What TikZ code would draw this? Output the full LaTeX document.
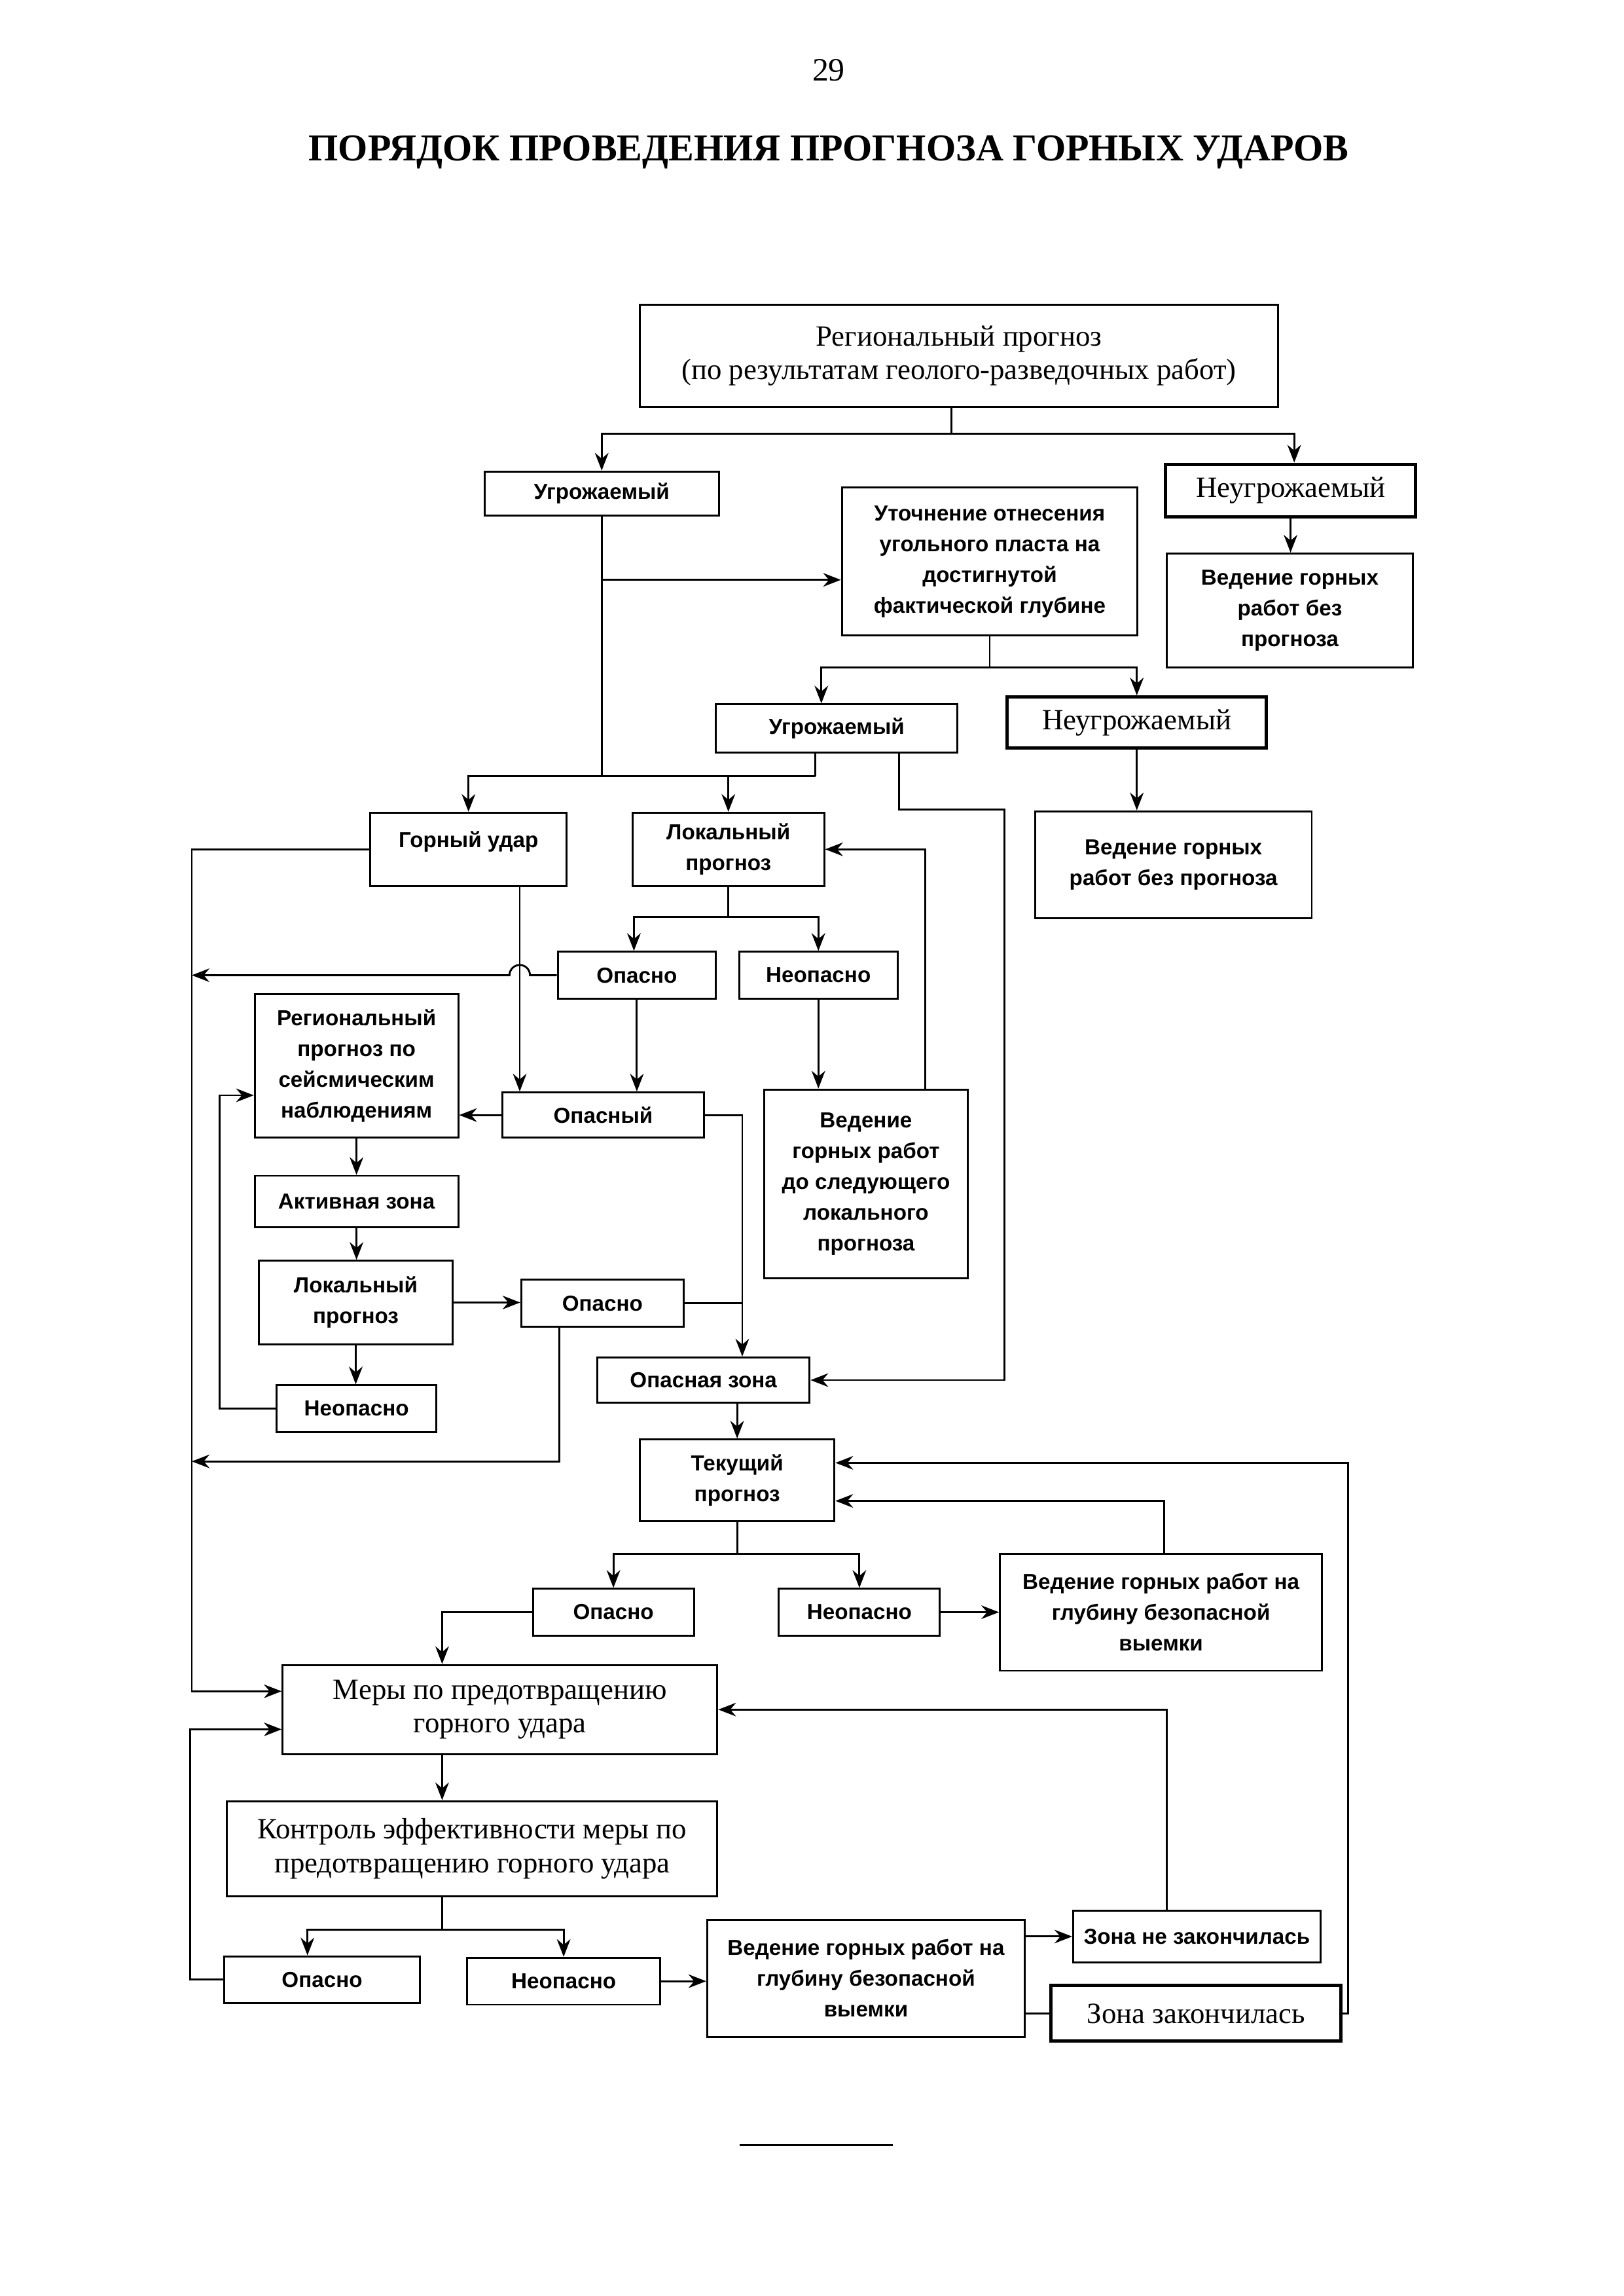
\documentclass[tikz,border=0pt]{standalone}
\usepackage{fontspec}
\setmainfont{Liberation Serif}
\newfontfamily\sansfam{Liberation Sans}
\usepackage{tikz}
\usetikzlibrary{calc,arrows.meta}

\def\pxu{0.018936cm}
\newcommand{\sfb}{\sansfam\bfseries\fontsize{8}{11.3}\selectfont}
\newcommand{\rmb}{\rmfamily\fontsize{10.8}{12.4}\selectfont}

\begin{document}
\begin{tikzpicture}[x=0.018936cm,y=-0.018936cm,->,>={Stealth[length=6.5pt,width=5pt]},line width=0.7pt]
\tikzstyle{sbox}=[draw,rectangle,align=center,inner sep=1pt,font=\sfb]
\tikzstyle{rbox}=[draw,rectangle,align=center,inner sep=1pt,font=\rmb]
\tikzstyle{thickbox}=[line width=1.2pt]
\tikzset{wh/.style 2 args={minimum width=#1*\pxu,minimum height=#2*\pxu}}
\useasboundingbox (0,0) rectangle (1109,1568);

% page head
\node (pg) at (566,48) {\fontsize{12}{14}\selectfont 29};
\node (title) at (566,104) {\fontsize{14}{16}\selectfont\bfseries ПОРЯДОК ПРОВЕДЕНИЯ ПРОГНОЗА ГОРНЫХ УДАРОВ};

% boxes
\node[rbox,wh={436}{70}] (reg) at (655,243) {Региональный прогноз\\(по результатам геолого-разведочных работ)};
\node[sbox,wh={160}{30}] (ug1) at (411,337) {Угрожаемый};
\node[rbox,thickbox,wh={171}{36}] (neug1) at (881.5,335) {Неугрожаемый};
\node[sbox,wh={202}{101}] (utoch) at (676,383.5) {Уточнение отнесения\\угольного пласта на\\достигнутой\\фактической глубине};
\node[sbox,wh={168}{78}] (ved1) at (881,417) {Ведение горных\\работ без\\прогноза};
\node[sbox,wh={165}{33}] (ug2) at (571.5,497.5) {Угрожаемый};
\node[rbox,thickbox,wh={177}{35}] (neug2) at (776.5,493.5) {Неугрожаемый};
\node[sbox,wh={189}{73}] (ved2) at (801.5,590.5) {Ведение горных\\работ без прогноза};
\node[sbox,wh={134}{50}] (gu) at (320,580) {Горный удар\\[-4pt]\mbox{}};
\node[sbox,wh={131}{50}] (lp1) at (497.5,580) {Локальный\\прогноз};
\node[sbox,wh={108}{32}] (op1) at (435,666) {Опасно};
\node[sbox,wh={108}{32}] (neop1) at (559,666) {Неопасно};
\node[sbox,wh={139}{129}] (vedsl) at (591.5,808.5) {Ведение\\горных работ\\до следующего\\локального\\прогноза};
\node[sbox,wh={138}{31}] (opy) at (412,761.5) {Опасный};
\node[sbox,wh={139}{98}] (regs) at (243.5,728) {Региональный\\прогноз по\\сейсмическим\\наблюдениям};
\node[sbox,wh={139}{35}] (akt) at (243.5,820.5) {Активная зона};
\node[sbox,wh={132}{57}] (lp2) at (243,889.5) {Локальный\\прогноз};
\node[sbox,wh={111}{32}] (op2) at (411.5,890) {Опасно};
\node[sbox,wh={109}{32}] (neop2) at (243.5,962) {Неопасно};
\node[sbox,wh={145}{31}] (oz) at (480.5,942.5) {Опасная зона};
\node[sbox,wh={133}{56}] (tek) at (503.5,1011) {Текущий\\прогноз};
\node[sbox,wh={110}{32}] (op3) at (419,1101) {Опасно};
\node[sbox,wh={110}{32}] (neop3) at (587,1101) {Неопасно};
\node[sbox,wh={220}{80}] (ved3) at (793,1101) {Ведение горных работ на\\глубину безопасной\\выемки};
\node[rbox,wh={297}{61}] (mery) at (341.5,1167.5) {Меры по предотвращению\\горного удара};
\node[rbox,wh={335}{65}] (kontr) at (322.5,1262.5) {Контроль эффективности меры по\\предотвращению горного удара};
\node[sbox,wh={134}{32}] (op4) at (220,1352) {Опасно};
\node[sbox,wh={132}{32}] (neop4) at (385,1353) {Неопасно};
\node[sbox,wh={217}{80}] (ved4) at (591.5,1351) {Ведение горных работ на\\глубину безопасной\\выемки};
\node[sbox,wh={169}{35}] (zn) at (817.5,1322.5) {Зона не закончилась};
\node[rbox,thickbox,wh={198}{38}] (zz) at (817,1375) {Зона закончилась};

% junctions
\coordinate (t1) at (650,296);
\coordinate (t2) at (411,530);
\coordinate (j1) at (411,396);
\coordinate (t3) at (676,456);
\coordinate (t4) at (557,530);
\coordinate (t5) at (614,553);
\coordinate (t6) at (686,553);
\coordinate (l1) at (131,582);
\coordinate (l2) at (131,1155);
\coordinate (l3) at (131,998);
\coordinate (l4) at (150,748);
\coordinate (l5) at (130,1181);
\coordinate (t7) at (497.5,626);
\coordinate (t9) at (503.5,1061);
\coordinate (t10) at (302,1318);
\coordinate (r1) at (921,999);
\coordinate (g1) at ([xshift=35*\pxu]gu.south);
\coordinate (t8) at ([xshift=26.5*\pxu]oz.north);

% connectors
\draw[-] (reg.south -| t1) -- (t1);
\draw (t1) -| (ug1.north);
\draw (t1) -| ([xshift=2.5*\pxu]neug1.north);
\draw (neug1.south) -- (neug1.south |- ved1.north);
\draw[-] (ug1.south) -- (t2);
\draw (j1) -- (j1 -| utoch.west);
\draw[-] (utoch.south) -- (t3);
\draw (t3) -| ([xshift=-10.5*\pxu]ug2.north);
\draw (t3) -| (neug2.north);
\draw (neug2.south) -- (neug2.south |- ved2.north);
\draw[-] (ug2.south -| t4) -- (t4);
\draw (t4) -| (gu.north);
\draw (t4 -| lp1.north) -- (lp1.north);
\draw (ug2.south -| t5) -- (t5) -- (t6) |- (oz.east);
\draw (gu.west) -| (l2) -- (l2 -| mery.west);
\draw (op1.west) -- ([xshift=7*\pxu]g1 |- op1.west) arc[start angle=0,end angle=180,radius=7*\pxu] -- (l1 |- op1.west);
\draw (g1) -- (g1 |- opy.north);
\draw[-] (lp1.south) -- (t7);
\draw (t7) -| ([xshift=-2*\pxu]op1.north);
\draw (t7) -| (neop1.north);
\draw (op1.south) -- (op1.south |- opy.north);
\draw (neop1.south) -- (neop1.south |- vedsl.north);
\draw ([xshift=40.5*\pxu]vedsl.north) |- (lp1.east);
\draw (opy.west) -- (opy.west -| regs.east);
\draw (opy.east) -| (t8);
\draw (regs.south) -- (akt.north);
\draw (akt.south) -- (akt.south |- lp2.north);
\draw (lp2.east) -- (lp2.east -| op2.west);
\draw (lp2.south) -- (lp2.south |- neop2.north);
\draw[-] (op2.east) -- (op2.east -| t8);
\draw ([xshift=-29.5*\pxu]op2.south) |- (l3);
\draw (neop2.west) -| (l4) -- (l4 -| regs.west);
\draw (tek.north |- oz.south) -- (tek.north);
\draw[-] (tek.south) -- (t9);
\draw (t9) -| (op3.north);
\draw (t9) -| (neop3.north);
\draw (neop3.east) -- (neop3.east -| ved3.west);
\draw ([xshift=2*\pxu]ved3.north) |- ([yshift=-14*\pxu]tek.east);
\draw (zz.east) -| (r1) -- (r1 -| tek.east);
\draw (op3.west) -| ([xshift=-39.5*\pxu]mery.north);
\draw ([xshift=-20.5*\pxu]zn.north) |- (mery.east);
\draw ([xshift=-39.5*\pxu]mery.south) -- ([xshift=-20.5*\pxu]kontr.north);
\draw[-] ([xshift=-20.5*\pxu]kontr.south) -- (t10);
\draw (t10) -| ([xshift=-10*\pxu]op4.north);
\draw (t10) -| (neop4.north);
\draw (op4.west) -| (l5) -- (l5 -| mery.west);
\draw (neop4.east) -- (neop4.east -| ved4.west);
\draw (zn.west -| ved4.east) -- (zn.west);
\draw[-] (zz.west -| ved4.east) -- (zz.west);

% rule under the page
\draw[-] (505,1465) -- (610,1465);
\end{tikzpicture}
\end{document}
